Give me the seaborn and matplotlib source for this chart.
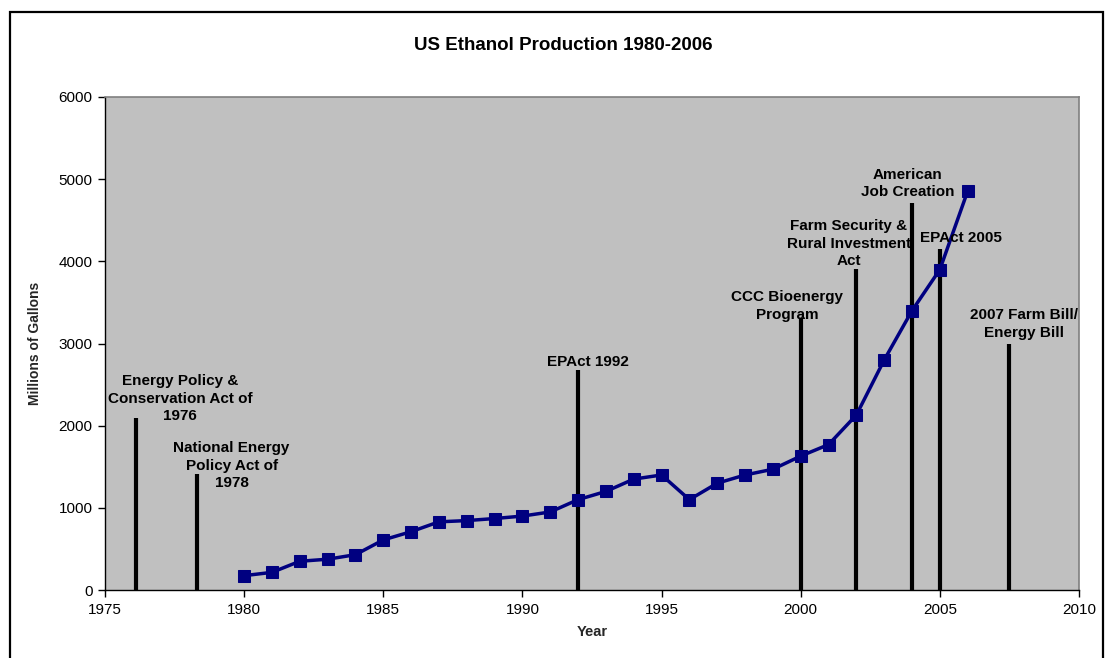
import matplotlib
matplotlib.use("Agg")
import matplotlib.pyplot as plt
import seaborn as sns
import pandas as pd
from matplotlib.patches import Rectangle

years = [1980, 1981, 1982, 1983, 1984, 1985, 1986, 1987, 1988, 1989, 1990, 1991,
         1992, 1993, 1994, 1995, 1996, 1997, 1998, 1999, 2000, 2001, 2002, 2003,
         2004, 2005, 2006]
production = [175, 215, 350, 375, 430, 610, 710, 830, 845, 870, 900, 950,
              1100, 1200, 1350, 1400, 1100, 1300, 1400, 1470, 1630, 1770, 2130, 2800,
              3400, 3900, 4855]

event_years = [1976.1, 1978.3, 1992, 2000, 2002, 2004, 2005, 2007.5]
event_heights = [2090, 1410, 2680, 3310, 3910, 4715, 4150, 2990]
event_labels = ["Energy Policy &\nConservation Act of\n1976",
                "National Energy\nPolicy Act of\n1978",
                "EPAct 1992",
                "CCC Bioenergy\nProgram",
                "Farm Security &\nRural Investment\nAct",
                "American\nJob Creation",
                "EPAct 2005",
                "2007 Farm Bill/\nEnergy Bill"]
# label block centers (x in years, y in data units)
label_x = [1977.69, 1979.55, 1992.36, 1999.51, 2001.73, 2003.83, 2005.76, 2008.02]
label_y = [2330, 1515, 2780, 3455, 4215, 4945, 4290, 3235]

sns.set_theme(style="white")
plt.rcParams['font.family'] = ['Liberation Sans', 'DejaVu Sans']

fig = plt.figure(figsize=(11.06, 6.58), dpi=100)
ax = fig.add_axes([0.0949, 0.1033, 0.8807, 0.7493])
ax.set_facecolor("#C0C0C0")

# figure border
fig.patches.append(Rectangle((10/1106, -0.05), 1093/1106, 1 - 12/658 + 0.05,
                             transform=fig.transFigure, fill=False,
                             edgecolor="black", linewidth=1.6))

ax.vlines(event_years, 0, event_heights, color="black", linewidth=3, zorder=2)

df = pd.DataFrame({"Year": years, "Production": production})
sns.lineplot(data=df, x="Year", y="Production", ax=ax, color="#000080",
             linewidth=2.5, marker="s", markersize=9, markeredgecolor="#000080",
             zorder=3)

for x, y, t in zip(label_x, label_y, event_labels):
    ax.text(x, y, t, ha="center", va="center", fontsize=11, fontweight="bold",
            color="black", linespacing=1.33, zorder=4)

ax.set_xlim(1975, 2010)
ax.set_ylim(0, 6000)
ax.set_xticks(range(1975, 2011, 5))
ax.set_yticks(range(0, 6001, 1000))
ax.tick_params(axis="both", direction="out", length=5, width=1, labelsize=11,
               colors="black", bottom=True, left=True, pad=4)
for s in ["top", "right"]:
    ax.spines[s].set_color("#808080")
    ax.spines[s].set_linewidth(1.2)
for s in ["left", "bottom"]:
    ax.spines[s].set_color("black")
    ax.spines[s].set_linewidth(1)

ax.set_xlabel("Year", fontsize=10.5, fontweight="bold", labelpad=6)
ax.set_ylabel("Millions of Gallons", fontsize=10, fontweight="bold", labelpad=12)
fig.text(563/1106, 1 - 46/658, "US Ethanol Production 1980-2006", ha="center",
         va="center", fontsize=13.5, fontweight="bold", color="black")

fig.savefig("out.png", dpi=100)
